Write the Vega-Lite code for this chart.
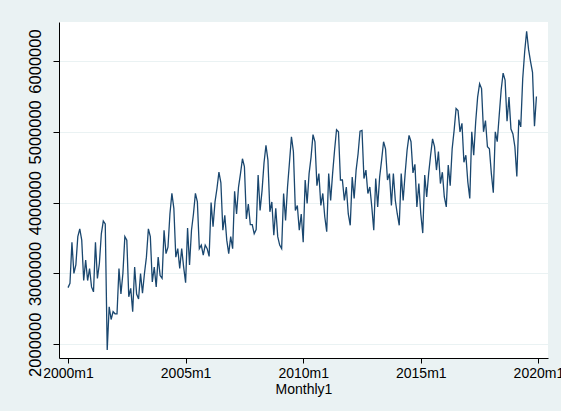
{
  "$schema": "https://vega.github.io/schema/vega-lite/v6.json",
  "autosize": {"type": "none"},
  "width": 489,
  "height": 336,
  "padding": {"left": 59, "top": 22, "right": 13, "bottom": 53},
  "background": "#EAF2F3",
  "config": {
    "view": {"fill": "white", "stroke": null},
    "font": "Liberation Sans"
  },
  "data": {
    "values": [
      {"Monthly1":480,"value":2800000},{"Monthly1":481,"value":2860000},{"Monthly1":482,"value":3440000},{"Monthly1":483,"value":3000000},{"Monthly1":484,"value":3120000},{"Monthly1":485,"value":3520000},{"Monthly1":486,"value":3630000},{"Monthly1":487,"value":3470000},{"Monthly1":488,"value":2900000},{"Monthly1":489,"value":3190000},{"Monthly1":490,"value":2900000},{"Monthly1":491,"value":3070000},
      {"Monthly1":492,"value":2810000},{"Monthly1":493,"value":2740000},{"Monthly1":494,"value":3440000},{"Monthly1":495,"value":2930000},{"Monthly1":496,"value":3140000},{"Monthly1":497,"value":3560000},{"Monthly1":498,"value":3740000},{"Monthly1":499,"value":3700000},{"Monthly1":500,"value":1920000},{"Monthly1":501,"value":2530000},{"Monthly1":502,"value":2350000},{"Monthly1":503,"value":2460000},
      {"Monthly1":504,"value":2430000},{"Monthly1":505,"value":2430000},{"Monthly1":506,"value":3070000},{"Monthly1":507,"value":2710000},{"Monthly1":508,"value":3000000},{"Monthly1":509,"value":3520000},{"Monthly1":510,"value":3470000},{"Monthly1":511,"value":2670000},{"Monthly1":512,"value":2790000},{"Monthly1":513,"value":2460000},{"Monthly1":514,"value":3090000},{"Monthly1":515,"value":2710000},
      {"Monthly1":516,"value":2640000},{"Monthly1":517,"value":3000000},{"Monthly1":518,"value":2720000},{"Monthly1":519,"value":3000000},{"Monthly1":520,"value":3230000},{"Monthly1":521,"value":3630000},{"Monthly1":522,"value":3520000},{"Monthly1":523,"value":2880000},{"Monthly1":524,"value":3090000},{"Monthly1":525,"value":2810000},{"Monthly1":526,"value":3230000},{"Monthly1":527,"value":2970000},
      {"Monthly1":528,"value":2930000},{"Monthly1":529,"value":3610000},{"Monthly1":530,"value":3280000},{"Monthly1":531,"value":3370000},{"Monthly1":532,"value":3840000},{"Monthly1":533,"value":4130000},{"Monthly1":534,"value":3920000},{"Monthly1":535,"value":3230000},{"Monthly1":536,"value":3350000},{"Monthly1":537,"value":3070000},{"Monthly1":538,"value":3350000},{"Monthly1":539,"value":3090000},
      {"Monthly1":540,"value":2870000},{"Monthly1":541,"value":3640000},{"Monthly1":542,"value":3120000},{"Monthly1":543,"value":3610000},{"Monthly1":544,"value":3840000},{"Monthly1":545,"value":4130000},{"Monthly1":546,"value":4010000},{"Monthly1":547,"value":3350000},{"Monthly1":548,"value":3400000},{"Monthly1":549,"value":3260000},{"Monthly1":550,"value":3400000},{"Monthly1":551,"value":3350000},
      {"Monthly1":552,"value":3240000},{"Monthly1":553,"value":4000000},{"Monthly1":554,"value":3660000},{"Monthly1":555,"value":4010000},{"Monthly1":556,"value":4200000},{"Monthly1":557,"value":4430000},{"Monthly1":558,"value":4280000},{"Monthly1":559,"value":3610000},{"Monthly1":560,"value":3820000},{"Monthly1":561,"value":3470000},{"Monthly1":562,"value":3280000},{"Monthly1":563,"value":3520000},
      {"Monthly1":564,"value":3350000},{"Monthly1":565,"value":4160000},{"Monthly1":566,"value":3840000},{"Monthly1":567,"value":4220000},{"Monthly1":568,"value":4410000},{"Monthly1":569,"value":4620000},{"Monthly1":570,"value":4510000},{"Monthly1":571,"value":3770000},{"Monthly1":572,"value":3980000},{"Monthly1":573,"value":3690000},{"Monthly1":574,"value":3690000},{"Monthly1":575,"value":3560000},
      {"Monthly1":576,"value":3620000},{"Monthly1":577,"value":4390000},{"Monthly1":578,"value":3890000},{"Monthly1":579,"value":4170000},{"Monthly1":580,"value":4560000},{"Monthly1":581,"value":4810000},{"Monthly1":582,"value":4600000},{"Monthly1":583,"value":3870000},{"Monthly1":584,"value":4010000},{"Monthly1":585,"value":3540000},{"Monthly1":586,"value":3920000},{"Monthly1":587,"value":3520000},
      {"Monthly1":588,"value":3400000},{"Monthly1":589,"value":3350000},{"Monthly1":590,"value":4130000},{"Monthly1":591,"value":3750000},{"Monthly1":592,"value":4220000},{"Monthly1":593,"value":4570000},{"Monthly1":594,"value":4930000},{"Monthly1":595,"value":4720000},{"Monthly1":596,"value":3890000},{"Monthly1":597,"value":3960000},{"Monthly1":598,"value":3610000},{"Monthly1":599,"value":3840000},
      {"Monthly1":600,"value":3440000},{"Monthly1":601,"value":4320000},{"Monthly1":602,"value":3990000},{"Monthly1":603,"value":4410000},{"Monthly1":604,"value":4640000},{"Monthly1":605,"value":4960000},{"Monthly1":606,"value":4860000},{"Monthly1":607,"value":4240000},{"Monthly1":608,"value":4410000},{"Monthly1":609,"value":3960000},{"Monthly1":610,"value":4130000},{"Monthly1":611,"value":3800000},
      {"Monthly1":612,"value":3590000},{"Monthly1":613,"value":4410000},{"Monthly1":614,"value":4030000},{"Monthly1":615,"value":4410000},{"Monthly1":616,"value":4740000},{"Monthly1":617,"value":5030000},{"Monthly1":618,"value":5000000},{"Monthly1":619,"value":4320000},{"Monthly1":620,"value":4320000},{"Monthly1":621,"value":4030000},{"Monthly1":622,"value":4220000},{"Monthly1":623,"value":3840000},
      {"Monthly1":624,"value":3680000},{"Monthly1":625,"value":4360000},{"Monthly1":626,"value":4060000},{"Monthly1":627,"value":4460000},{"Monthly1":628,"value":4690000},{"Monthly1":629,"value":5010000},{"Monthly1":630,"value":5020000},{"Monthly1":631,"value":4340000},{"Monthly1":632,"value":4460000},{"Monthly1":633,"value":4130000},{"Monthly1":634,"value":4220000},{"Monthly1":635,"value":3940000},
      {"Monthly1":636,"value":3610000},{"Monthly1":637,"value":4340000},{"Monthly1":638,"value":3940000},{"Monthly1":639,"value":4360000},{"Monthly1":640,"value":4600000},{"Monthly1":641,"value":4860000},{"Monthly1":642,"value":4760000},{"Monthly1":643,"value":4320000},{"Monthly1":644,"value":4410000},{"Monthly1":645,"value":3960000},{"Monthly1":646,"value":4410000},{"Monthly1":647,"value":4030000},
      {"Monthly1":648,"value":3840000},{"Monthly1":649,"value":3680000},{"Monthly1":650,"value":4410000},{"Monthly1":651,"value":4030000},{"Monthly1":652,"value":4410000},{"Monthly1":653,"value":4740000},{"Monthly1":654,"value":4950000},{"Monthly1":655,"value":4860000},{"Monthly1":656,"value":4420000},{"Monthly1":657,"value":4540000},{"Monthly1":658,"value":3940000},{"Monthly1":659,"value":4270000},
      {"Monthly1":660,"value":3840000},{"Monthly1":661,"value":3570000},{"Monthly1":662,"value":4390000},{"Monthly1":663,"value":4080000},{"Monthly1":664,"value":4410000},{"Monthly1":665,"value":4670000},{"Monthly1":666,"value":4900000},{"Monthly1":667,"value":4790000},{"Monthly1":668,"value":4460000},{"Monthly1":669,"value":4720000},{"Monthly1":670,"value":4270000},{"Monthly1":671,"value":4430000},
      {"Monthly1":672,"value":4080000},{"Monthly1":673,"value":3940000},{"Monthly1":674,"value":4530000},{"Monthly1":675,"value":4240000},{"Monthly1":676,"value":4760000},{"Monthly1":677,"value":5020000},{"Monthly1":678,"value":5330000},{"Monthly1":679,"value":5300000},{"Monthly1":680,"value":5000000},{"Monthly1":681,"value":5120000},{"Monthly1":682,"value":4570000},{"Monthly1":683,"value":4670000},
      {"Monthly1":684,"value":4290000},{"Monthly1":685,"value":4060000},{"Monthly1":686,"value":5000000},{"Monthly1":687,"value":4670000},{"Monthly1":688,"value":5140000},{"Monthly1":689,"value":5490000},{"Monthly1":690,"value":5680000},{"Monthly1":691,"value":5610000},{"Monthly1":692,"value":5000000},{"Monthly1":693,"value":5160000},{"Monthly1":694,"value":4790000},{"Monthly1":695,"value":4760000},
      {"Monthly1":696,"value":4410000},{"Monthly1":697,"value":4140000},{"Monthly1":698,"value":5000000},{"Monthly1":699,"value":4860000},{"Monthly1":700,"value":5230000},{"Monthly1":701,"value":5590000},{"Monthly1":702,"value":5830000},{"Monthly1":703,"value":5730000},{"Monthly1":704,"value":5150000},{"Monthly1":705,"value":5490000},{"Monthly1":706,"value":5040000},{"Monthly1":707,"value":4970000},
      {"Monthly1":708,"value":4790000},{"Monthly1":709,"value":4370000},{"Monthly1":710,"value":5170000},{"Monthly1":711,"value":5070000},{"Monthly1":712,"value":5750000},{"Monthly1":713,"value":6130000},{"Monthly1":714,"value":6420000},{"Monthly1":715,"value":6160000},{"Monthly1":716,"value":5990000},{"Monthly1":717,"value":5840000},{"Monthly1":718,"value":5080000},{"Monthly1":719,"value":5500000}
    ]
  },
  "mark": {"type": "line", "color": "#1A476F", "strokeWidth": 1.3, "clip": true},
  "encoding": {
    "x": {
      "field": "Monthly1",
      "type": "quantitative",
      "scale": {"domain": [475.4, 724.9], "nice": false, "zero": false},
      "axis": {
        "values": [480, 540, 600, 660, 720],
        "labelExpr": "(floor(datum.value/12)+1960) + 'm' + (datum.value % 12 + 1)",
        "title": "Monthly1",
        "titleFont": "Liberation Sans",
        "titleFontSize": 14,
        "titleFontWeight": "normal",
        "titleColor": "black",
        "titlePadding": 2,
        "labelFont": "Liberation Sans",
        "labelFontSize": 14,
        "labelColor": "black",
        "labelPadding": 3,
        "labelOverlap": false,
        "labelFlush": false,
        "domainColor": "black",
        "domainWidth": 1,
        "tickColor": "black",
        "tickSize": 5,
        "tickWidth": 1,
        "grid": false
      }
    },
    "y": {
      "field": "value",
      "type": "quantitative",
      "scale": {"domain": [1806000, 6551000], "nice": false, "zero": false},
      "axis": {
        "values": [2000000, 3000000, 4000000, 5000000, 6000000],
        "format": "d",
        "title": null,
        "labelAngle": -90,
        "labelAlign": "center",
        "labelBaseline": "alphabetic",
        "labelFont": "Liberation Sans",
        "labelFontSize": 16.5,
        "labelColor": "black",
        "labelPadding": 13,
        "labelOverlap": false,
        "labelFlush": false,
        "domainColor": "black",
        "domainWidth": 1,
        "tickColor": "black",
        "tickSize": 6,
        "tickWidth": 1,
        "grid": true,
        "gridColor": "#EAF2F3",
        "gridWidth": 1.2
      }
    }
  }
}
